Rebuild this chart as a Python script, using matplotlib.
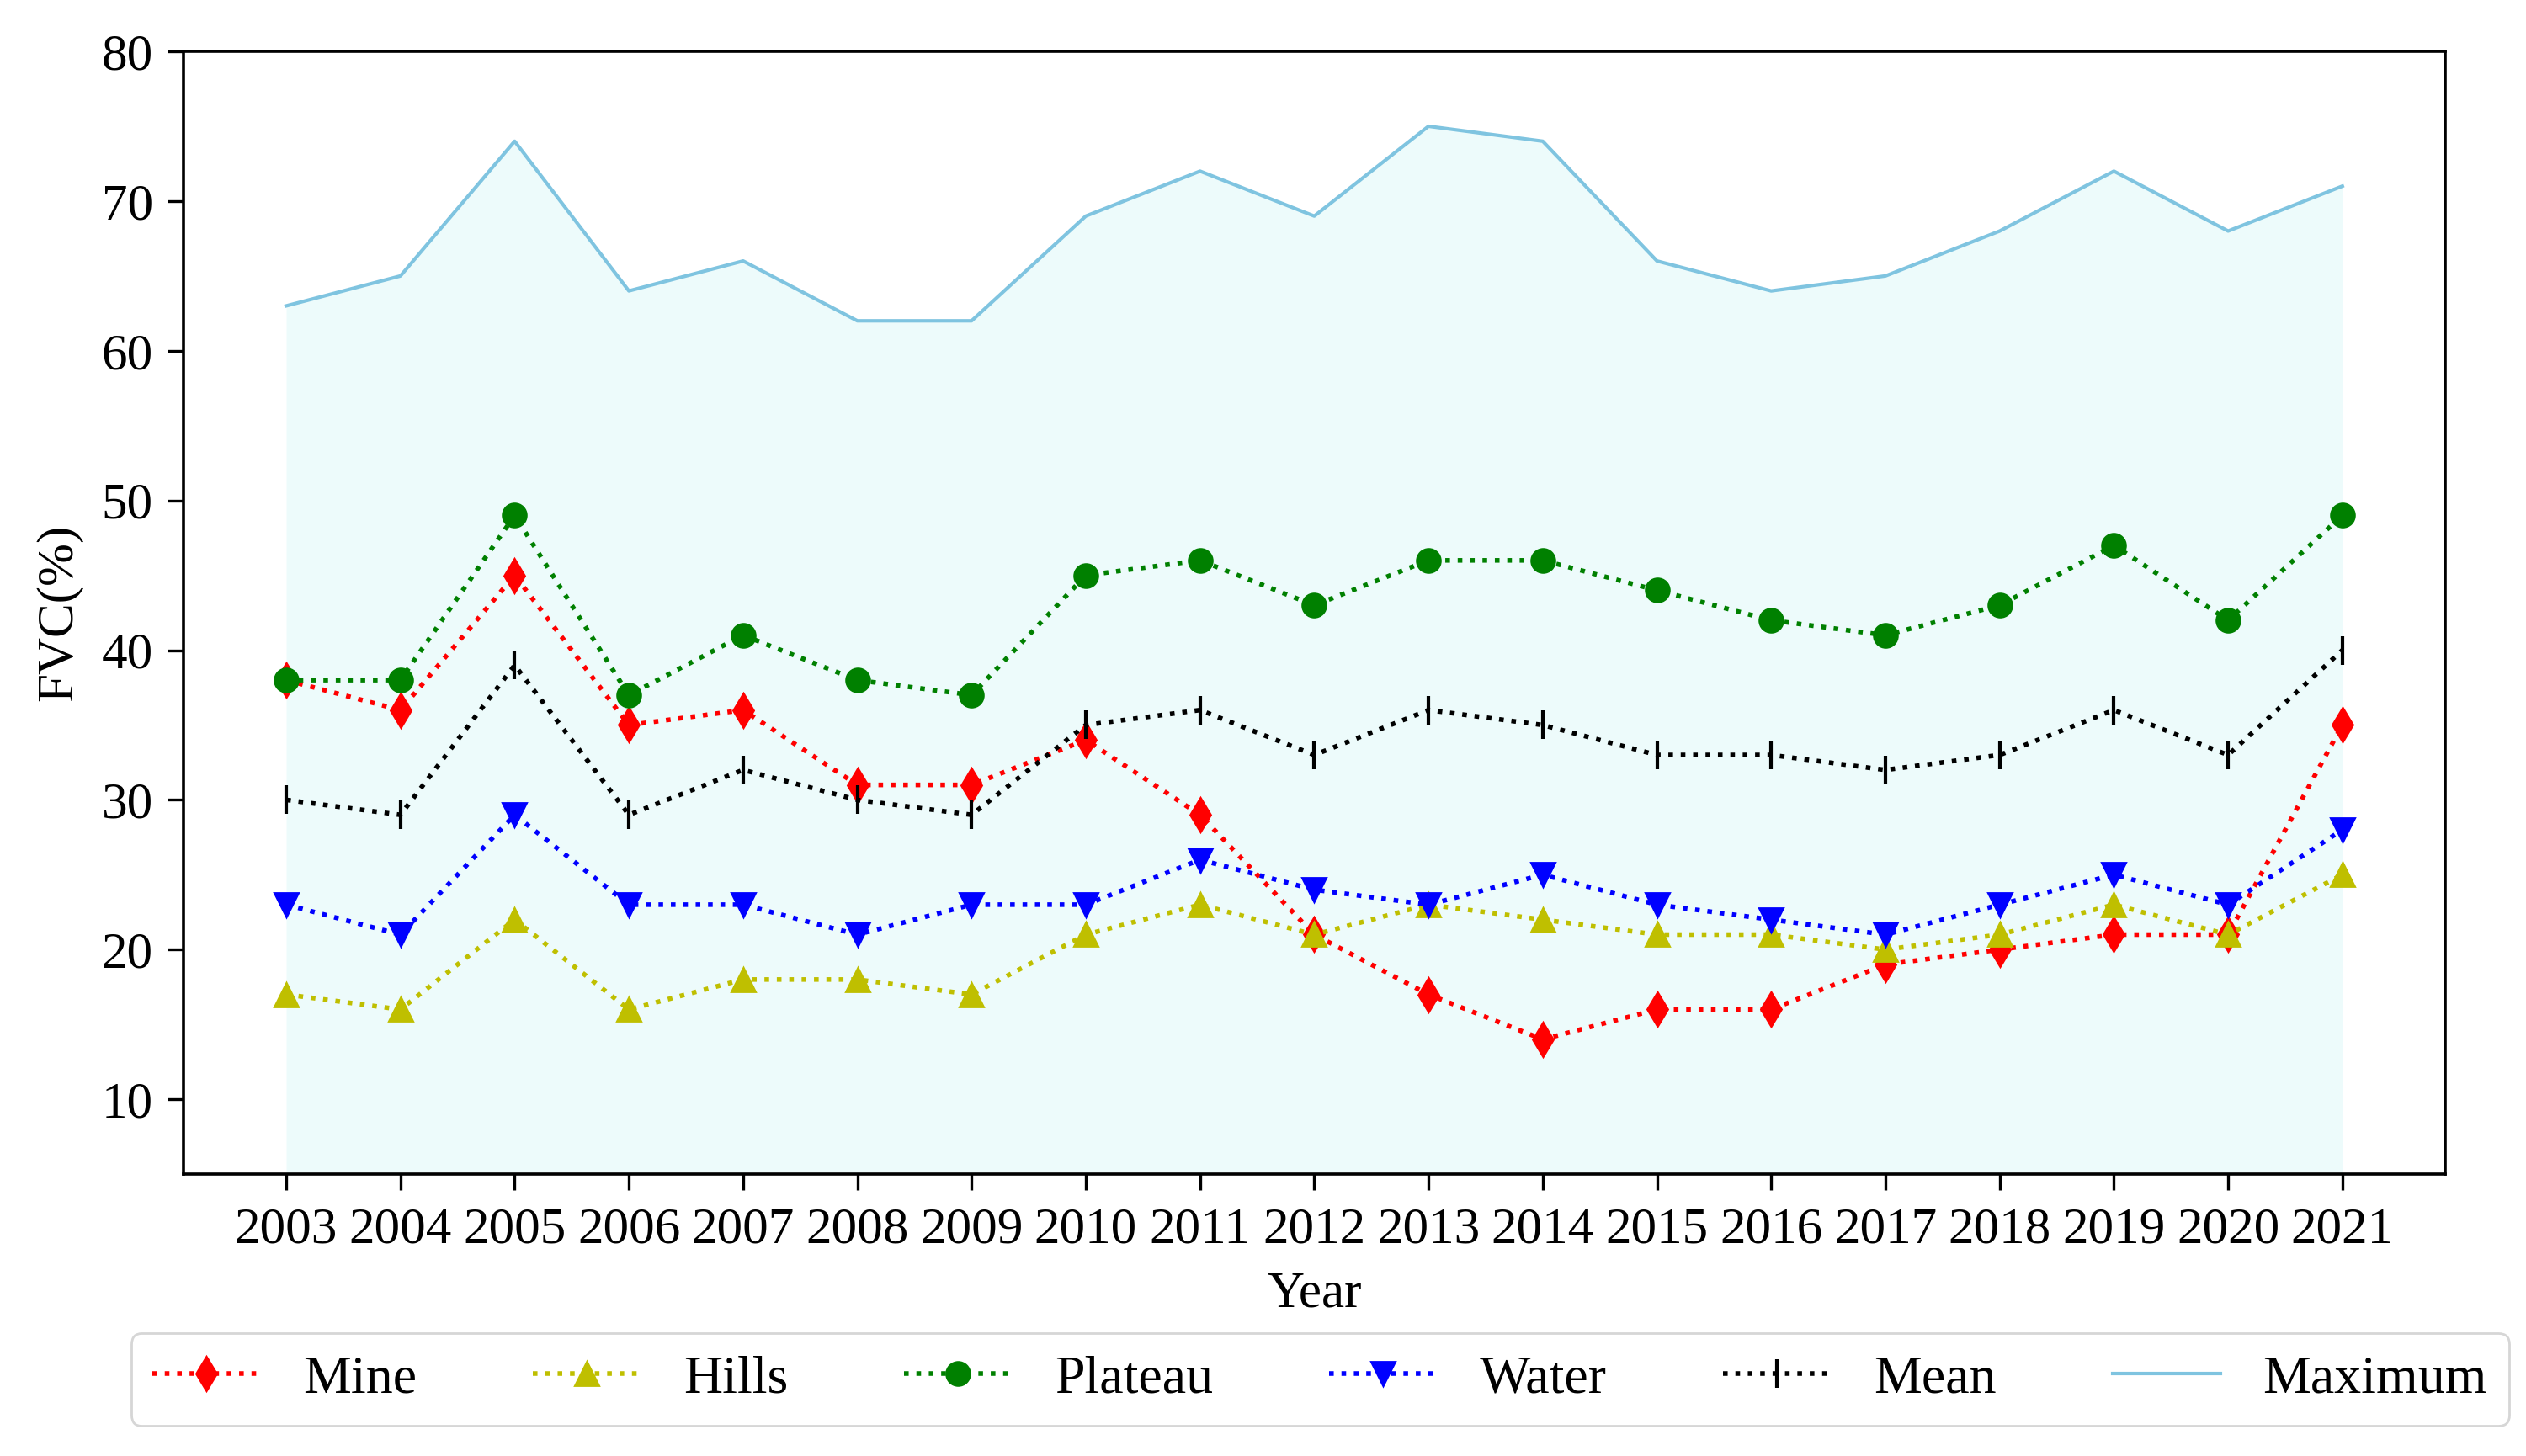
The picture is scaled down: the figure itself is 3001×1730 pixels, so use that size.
import numpy as np
import matplotlib
matplotlib.use("Agg")
import matplotlib.pyplot as plt

plt.rcParams['font.family'] = ['Liberation Serif', 'DejaVu Serif']

# data
years = [2003, 2004, 2005, 2006, 2007, 2008, 2009, 2010, 2011, 2012,
         2013, 2014, 2015, 2016, 2017, 2018, 2019, 2020, 2021]
mine = [38, 36, 45, 35, 36, 31, 31, 34, 29, 21, 17, 14, 16, 16, 19, 20, 21, 21, 35]
hills = [17, 16, 22, 16, 18, 18, 17, 21, 23, 21, 23, 22, 21, 21, 20, 21, 23, 21, 25]
plateau = [38, 38, 49, 37, 41, 38, 37, 45, 46, 43, 46, 46, 44, 42, 41, 43, 47, 42, 49]
water = [23, 21, 29, 23, 23, 21, 23, 23, 26, 24, 23, 25, 23, 22, 21, 23, 25, 23, 28]
mean = [30, 29, 39, 29, 32, 30, 29, 35, 36, 33, 36, 35, 33, 33, 32, 33, 36, 33, 40]
maximum = [63, 65, 74, 64, 66, 62, 62, 69, 72, 69, 75, 74, 66, 64, 65, 68, 72, 68, 71]

fig = plt.figure(figsize=(15.005, 8.65), dpi=200)
ax = fig.add_axes([0.0726, 0.1936, 0.8954, 0.7711])

lw = 2
ms = 10
ax.plot(years, mine, 'rd:', lw=lw, ms=ms, label='Mine')
ax.plot(years, hills, 'y^:', lw=lw, ms=ms, label='Hills')
ax.plot(years, plateau, 'go:', lw=lw, ms=ms, label='Plateau')
ax.plot(years, water, 'bv:', lw=lw, ms=ms, label='Water')
ax.plot(years, mean, 'k|:', lw=lw, ms=ms + 2, mew=1.5, label='Mean')
ax.plot(years, maximum, color='#7fc4e0', lw=1.5, label='Maximum')
ax.fill_between(years, maximum, 0, color='paleturquoise', alpha=0.22, lw=0)

ax.set_ylim(5, 80)
ax.set_yticks([10, 20, 30, 40, 50, 60, 70, 80])
ax.set_xticks(years)
ax.tick_params(labelsize=22, width=1.2, length=7)
ax.tick_params(axis='x', pad=7)
ax.tick_params(axis='y', pad=6)
for s in ax.spines.values():
    s.set_linewidth(1.3)
ax.set_xlabel('Year', fontsize=22, labelpad=7.5)
ax.set_ylabel('FVC(%)', fontsize=22, labelpad=8)

ax.legend(loc='upper center', bbox_to_anchor=(0.5025, -0.118), ncol=6,
          fontsize=23, handlelength=2.0, columnspacing=2.16, fancybox=True,
          borderpad=0.4, handletextpad=0.8)

plt.savefig('out.png', dpi=200)
